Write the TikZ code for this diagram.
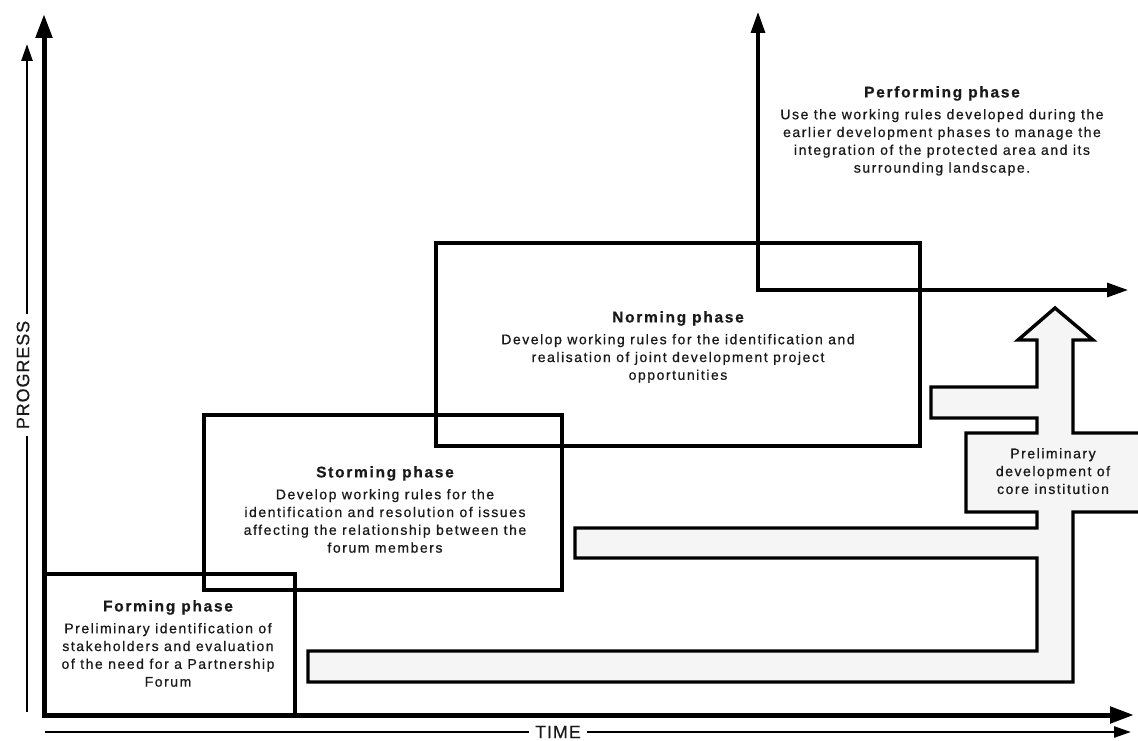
\documentclass[tikz,border=0pt]{standalone}
\usepackage{fontspec}
\setmainfont{Liberation Sans}
\newfontfamily\spacedfont[LetterSpace=11,FakeBold=0.7]{Liberation Sans}
\newfontfamily\axisfont[LetterSpace=5,FakeBold=0.4]{Liberation Sans}
\usetikzlibrary{arrows.meta}

\newcommand\phasehead[1]{{\fontsize{15.5}{17.8}\selectfont\bfseries #1}}

\tikzset{
  frame/.style={draw, line width=3.4pt, inner sep=0pt, outer sep=0pt, anchor=north west},
  phasetext/.style={align=center, inner sep=0pt, anchor=north, text=black!90,
    font=\spacedfont\fontsize{14}{17.8}\selectfont},
  axisline/.style={line width=5pt, line join=miter},
  bigtip/.tip={Triangle[length=24pt,width=16pt]},
  guide/.style={line width=2.5pt},
  smalltip/.tip={Triangle[length=17pt,width=11pt]},
  perfline/.style={line width=3.2pt, line join=miter},
  perftip/.tip={Triangle[length=21pt,width=14pt]},
  axislabel/.style={font=\axisfont\fontsize{18}{20}\selectfont, text=black!90,
    inner xsep=6pt, inner ysep=0.5pt},
  flowline/.style={line width=3.4pt, line join=miter, fill=black!4}
}

\begin{document}
\begin{tikzpicture}[x=1pt,y=-1pt]
\useasboundingbox (0,0) rectangle (1138,741);

% institution-building channel with its upward arrow
\draw[flowline] (1055,308) -- (1093,340) -- (1073,340) -- (1073,433) -- (1150,433)
  -- (1150,512) -- (1073,512) -- (1073,682) -- (308,682) -- (308,651)
  -- (1037,651) -- (1037,558) -- (575,558) -- (575,528) -- (1037,528)
  -- (1037,512) -- (966,512) -- (966,433) -- (1037,433) -- (1037,418)
  -- (931,418) -- (931,387) -- (1037,387) -- (1037,340) -- (1018,340) -- cycle;
\node[phasetext] (core) at (1053,448) {Preliminary\\development of\\core institution};

% phase frames
\node[frame, minimum width=251pt, minimum height=142pt] (forming) at (44,574) {};
\node[frame, minimum width=358pt, minimum height=175pt] (storming) at (204,415) {};
\node[frame, minimum width=484pt, minimum height=203pt] (norming) at (436,243) {};

% phase descriptions
\node[phasetext] (formingtext) at (168,600) {\phasehead{Forming phase}\\[4pt]
  Preliminary identification of\\stakeholders and evaluation\\of the need for a Partnership\\Forum};
\node[phasetext] (stormingtext) at (385,466) {\phasehead{Storming phase}\\[4pt]
  Develop working rules for the\\identification and resolution of issues\\affecting the relationship between the\\forum members};
\node[phasetext] (normingtext) at (678,311) {\phasehead{Norming phase}\\[4pt]
  Develop working rules for the identification and\\realisation of joint development project\\opportunities};
\node[phasetext] (performingtext) at (942,86) {\phasehead{Performing phase}\\[4pt]
  Use the working rules developed during the\\earlier development phases to manage the\\integration of the protected area and its\\surrounding landscape.};

% performing phase arrows
\coordinate (perftop) at (758,12);
\coordinate (perfcorner) at (758,290);
\coordinate (perfend) at (1128,290);
\draw[perfline, perftip-perftip] (perftop) -- (perfcorner) -- (perfend);

% main axes
\coordinate (ytop) at (44,14);
\coordinate (origin) at (44,715);
\coordinate (xend) at (1134,715);
\draw[axisline, bigtip-bigtip] (ytop) -- (origin) -- (xend);

% PROGRESS guide
\node[axislabel, rotate=90, inner xsep=7pt] (progress) at (23,375) {PROGRESS};
\coordinate (ybase) at (27,712);
\coordinate (yhead) at (27,44);
\draw[guide] (ybase) -- (ybase |- progress.west);
\draw[guide, -smalltip] (ybase |- progress.east) -- (yhead);

% TIME guide
\coordinate (xbase) at (45,732);
\coordinate (xhead) at (1131,732);
\node[axislabel] (time) at (558,732) {TIME};
\draw[guide] (xbase) -- (xbase -| time.west);
\draw[guide, -smalltip] (xhead -| time.east) -- (xhead);
\end{tikzpicture}
\end{document}
